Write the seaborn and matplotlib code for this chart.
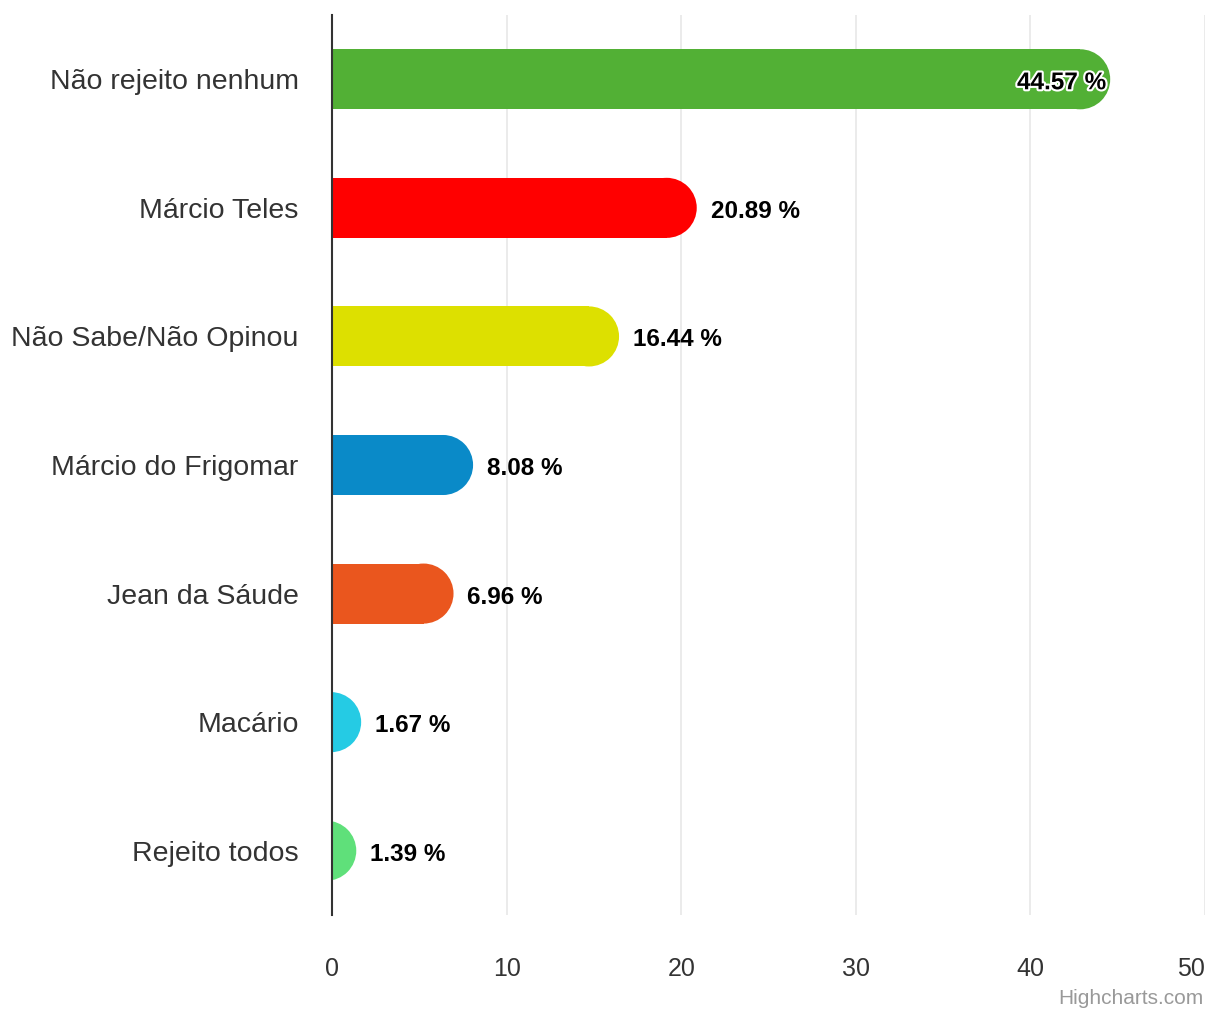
import matplotlib
matplotlib.use('Agg')
import matplotlib.pyplot as plt
import matplotlib.patheffects as pe
from matplotlib.patches import Ellipse
import seaborn as sb

categories = ['Não rejeito nenhum', 'Márcio Teles', 'Não Sabe/Não Opinou',
              'Márcio do Frigomar', 'Jean da Sáude', 'Macário', 'Rejeito todos']
values = [44.57, 20.89, 16.44, 8.08, 6.96, 1.67, 1.39]
colors = ['#52b035', '#ff0000', '#dde000', '#0a8ac8', '#ea561e', '#25cbe4', '#5fe07a']
x_ticks = [0, 10, 20, 30, 40, 50]

sb.set_style('white')
plt.rcParams['font.family'] = ['Liberation Sans', 'DejaVu Sans']

fig = plt.figure(figsize=(12.05, 10.10), dpi=100)
ax = fig.add_axes([332 / 1205, 95 / 1010, 873 / 1205, 900 / 1010])

bar_h = 0.467
sb.barplot(x=values, y=categories, hue=categories, palette=colors, saturation=1,
           legend=False, width=bar_h, orient='h', linewidth=0, ax=ax)
ax.set_xlim(0, 50)
ax.set_ylim(6.5, -0.5)

# rounded right ends like highcharts: shorten the bar and put a half circle on it
fig.canvas.draw()
bb = ax.get_window_extent()
aspect = (7 / bb.height) / (50 / bb.width)
for p in list(ax.patches):
    v = p.get_width()
    h = p.get_height()
    yc = p.get_y() + h / 2
    r = h / (2 * aspect)
    p.set_width(v - r)
    cap = Ellipse((v - r, yc), 2 * r, h, facecolor=p.get_facecolor(),
                  edgecolor='none', zorder=p.get_zorder())
    ax.add_patch(cap)

# data labels
for i, v in enumerate(values):
    txt = f'{v:.2f} %'
    if v > 40:
        ax.annotate(txt, (v, i), xytext=(-3, -2.5), textcoords='offset points',
                    ha='right', va='center', fontsize=17.5, fontweight='bold',
                    color='black', zorder=5,
                    path_effects=[pe.withStroke(linewidth=3, foreground='white')])
    else:
        ax.annotate(txt, (v, i), xytext=(10, -2.5), textcoords='offset points',
                    ha='left', va='center', fontsize=17.5, fontweight='bold',
                    color='black', zorder=5)

ax.set_xticks(x_ticks)
ax.set_xticklabels([str(t) for t in x_ticks])
ax.get_xticklabels()[-1].set_ha('right')
ax.tick_params(axis='x', length=0, pad=30, labelsize=18, labelcolor='#333333')
ax.tick_params(axis='y', length=0, pad=24, labelsize=20.5, labelcolor='#333333')
ax.grid(axis='x', color='#e6e6e6', linewidth=1.1, zorder=0)
ax.set_axisbelow(True)
ax.set_xlabel('')
ax.set_ylabel('')
for s in ['top', 'right', 'bottom']:
    ax.spines[s].set_visible(False)
ax.spines['left'].set_color('#333333')
ax.spines['left'].set_linewidth(1.5)
ax.spines['left'].set_zorder(4)

fig.text(1204 / 1205, 1 - 998 / 1010, 'Highcharts.com', ha='right', va='center',
         fontsize=15, color='#999999')

plt.savefig('out.png', dpi=100)
